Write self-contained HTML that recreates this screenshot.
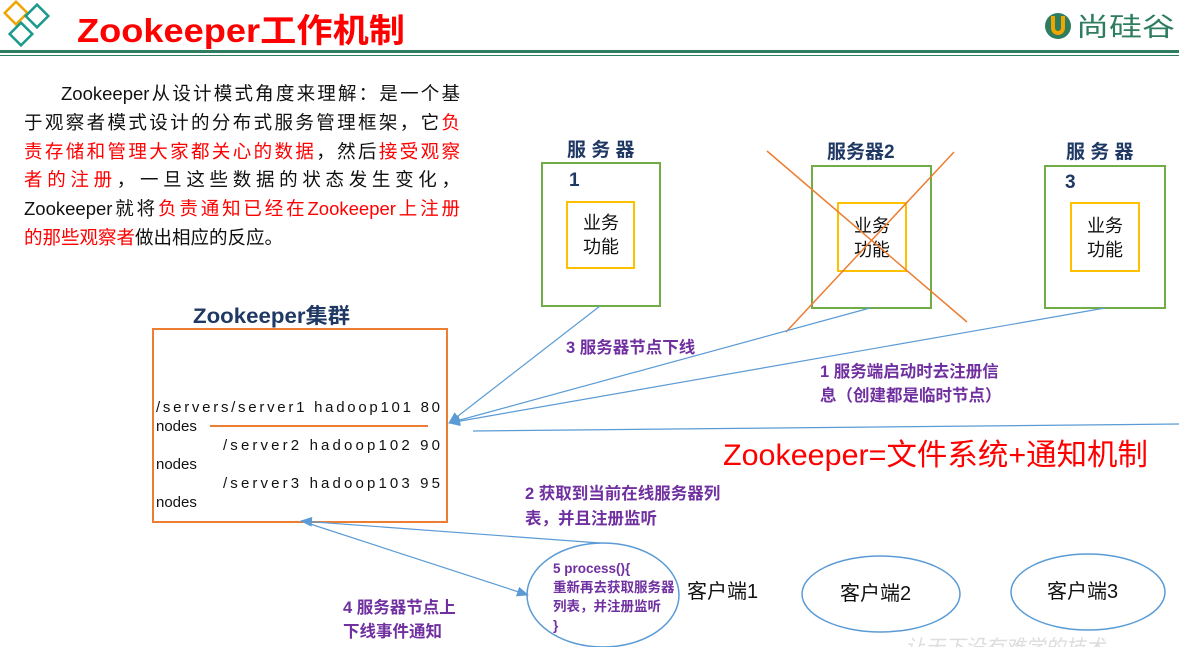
<!DOCTYPE html>
<html><head><meta charset="utf-8"><style>
body{margin:0;width:1179px;height:647px;overflow:hidden;background:#fff;font-family:"Liberation Sans","Noto Sans CJK SC",sans-serif;}
svg{position:absolute;left:0;top:0}
text{font-family:"Liberation Sans","Noto Sans CJK SC",sans-serif}
.p{position:absolute;left:24px;top:80px;width:436px;font-size:18.5px;line-height:28.8px;color:#111}
.p div{text-align:justify;text-align-last:justify;white-space:nowrap;height:28.8px}
.r{color:#f00}
</style></head><body>
<svg width="1179" height="647" viewBox="0 0 1179 647">
<defs>
<marker id="a" markerWidth="12" markerHeight="10" refX="11" refY="5" orient="auto" markerUnits="userSpaceOnUse"><path d="M0,0 L12,5 L0,10 Z" fill="#5b9bd5"/></marker>
</defs>
<g fill="none" stroke-width="2.5">
<rect x="8" y="5" width="16" height="16" transform="rotate(45 16 13)" stroke="#f0a500"/>
<rect x="29" y="8" width="16" height="16" transform="rotate(45 37 16)" stroke="#1a9a8a"/>
<rect x="13" y="26" width="16" height="16" transform="rotate(45 21 34)" stroke="#1a9a8a"/>
</g>
<text x="77" y="42" font-size="33" font-weight="bold" fill="#f00" textLength="328" lengthAdjust="spacingAndGlyphs">Zookeeper工作机制</text>
<rect x="0" y="50" width="1179" height="3" fill="#2e7d5e"/>
<rect x="0" y="55" width="1179" height="1" fill="#2e7d5e"/>
<circle cx="1058" cy="26" r="13" fill="#2e7d5e"/>
<path d="M1053,16 v12 a5,5 0 0 0 10,0 v-12" stroke="#f0a500" stroke-width="4" fill="none"/>
<text x="1076" y="36" font-size="26" fill="#2e7d5e" textLength="99" lengthAdjust="spacingAndGlyphs">尚硅谷</text>
<g font-weight="bold" fill="#1f3864" font-size="19">
<text x="567" y="156">服 务 器</text><text x="569" y="186">1</text>
<text x="827" y="158">服务器2</text>
<text x="1066" y="158">服 务 器</text><text x="1065" y="188">3</text>
</g>
<g fill="none" stroke="#70ad47" stroke-width="2">
<rect x="542" y="163" width="118" height="143"/>
<rect x="812" y="166" width="119" height="142"/>
<rect x="1045" y="166" width="120" height="142"/>
</g>
<g fill="none" stroke="#ffc000" stroke-width="2">
<rect x="567" y="202" width="67" height="66"/>
<rect x="838" y="203" width="68" height="68"/>
<rect x="1071" y="203" width="68" height="68"/>
</g>
<g font-size="18" fill="#111" text-anchor="middle">
<text x="601" y="229">业务</text><text x="601" y="253">功能</text>
<text x="872" y="232">业务</text><text x="872" y="256">功能</text>
<text x="1105" y="232">业务</text><text x="1105" y="256">功能</text>
</g>
<line x1="767" y1="151" x2="967" y2="322" stroke="#ed7d31" stroke-width="1.5"/>
<line x1="954" y1="152" x2="786" y2="332" stroke="#ed7d31" stroke-width="1.5"/>
<text x="193" y="323" font-size="21" font-weight="bold" fill="#1f3864" textLength="157" lengthAdjust="spacingAndGlyphs">Zookeeper集群</text>
<rect x="153" y="329" width="294" height="193" fill="none" stroke="#ed7d31" stroke-width="2"/>
<g font-size="15" fill="#111">
<text x="156" y="412" textLength="284">/servers/server1  hadoop101  80</text>
<text x="156" y="431">nodes</text>
<text x="223" y="450" textLength="217">/server2 hadoop102  90</text>
<text x="156" y="469">nodes</text>
<text x="223" y="488" textLength="217">/server3 hadoop103  95</text>
<text x="156" y="507">nodes</text>
</g>
<line x1="210" y1="426" x2="428" y2="426" stroke="#ed7d31" stroke-width="2"/>
<g stroke="#5b9bd5" stroke-width="1.2" fill="none">
<line x1="600" y1="306" x2="449" y2="423" marker-end="url(#a)"/>
<line x1="870" y1="308" x2="449" y2="423" marker-end="url(#a)"/>
<line x1="1105" y1="308" x2="449" y2="423" marker-end="url(#a)"/>
<line x1="473" y1="431" x2="1179" y2="424"/>
<line x1="600" y1="543" x2="301" y2="521" marker-end="url(#a)"/>
<line x1="301" y1="521" x2="528" y2="595" marker-end="url(#a)"/>
<ellipse cx="603" cy="595" rx="76" ry="52" stroke-width="1.5"/>
<ellipse cx="881" cy="594" rx="79" ry="38" stroke-width="1.5"/>
<ellipse cx="1088" cy="592" rx="77" ry="38" stroke-width="1.5"/>
</g>
<g fill="#7030a0" font-size="16.5" font-weight="bold">
<text x="566" y="353">3 服务器节点下线</text>
<text x="820" y="377">1 服务端启动时去注册信</text>
<text x="820" y="401">息（创建都是临时节点）</text>
<text x="525" y="499">2 获取到当前在线服务器列</text>
<text x="525" y="524">表，并且注册监听</text>
<text x="343" y="613">4 服务器节点上</text>
<text x="343" y="637">下线事件通知</text>
</g>
<g fill="#7030a0" font-size="13.5" font-weight="bold">
<text x="553" y="573">5 process(){</text>
<text x="553" y="592">重新再去获取服务器</text>
<text x="553" y="611">列表，并注册监听</text>
<text x="553" y="630">}</text>
</g>
<text x="723" y="465" font-size="30" fill="#f00" textLength="425" lengthAdjust="spacingAndGlyphs">Zookeeper=文件系统+通知机制</text>
<g font-size="20" fill="#111">
<text x="687" y="598">客户端1</text>
<text x="840" y="600">客户端2</text>
<text x="1047" y="598">客户端3</text>
</g>
<text x="905" y="654" font-size="20" fill="#ddd" font-style="italic">让天下没有难学的技术</text>
</svg>
<div class="p">
<div>&emsp;&emsp;Zookeeper从设计模式角度来理解：是一个基</div>
<div>于观察者模式设计的分布式服务管理框架，它<span class="r">负</span></div>
<div><span class="r">责存储和管理大家都关心的数据</span>，然后<span class="r">接受观察</span></div>
<div><span class="r">者的注册</span>，一旦这些数据的状态发生变化，</div>
<div>Zookeeper就将<span class="r">负责通知已经在Zookeeper上注册</span></div>
<div style="text-align-last:left"><span class="r">的那些观察者</span>做出相应的反应。</div>
</div>
</body></html>
